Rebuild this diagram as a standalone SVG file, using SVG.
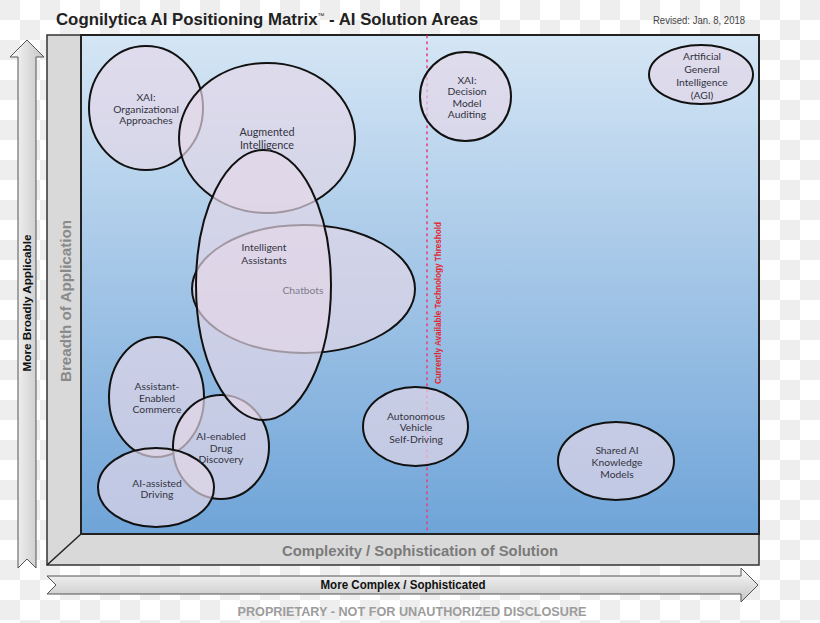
<svg xmlns="http://www.w3.org/2000/svg" width="820" height="623" viewBox="0 0 820 623">
<defs>
<pattern id="chk" width="40" height="40" patternUnits="userSpaceOnUse">
<rect width="40" height="40" fill="#ffffff"/>
<rect x="0" y="0" width="20" height="20" fill="#eeeeee"/>
<rect x="20" y="20" width="20" height="20" fill="#eeeeee"/>
</pattern>
<linearGradient id="plot" x1="0" y1="0" x2="0" y2="1">
<stop offset="0" stop-color="#d5e6f5"/>
<stop offset="1" stop-color="#6fa4d8"/>
</linearGradient>
<linearGradient id="arrV" x1="0" y1="0" x2="1" y2="0">
<stop offset="0" stop-color="#fbfbfb"/>
<stop offset="1" stop-color="#c4c4c4"/>
</linearGradient>
<linearGradient id="arrH" x1="0" y1="0" x2="0" y2="1">
<stop offset="0" stop-color="#fbfbfb"/>
<stop offset="1" stop-color="#c4c4c4"/>
</linearGradient>
<style>
.ell{fill:#e4d7e8;fill-opacity:0.68;stroke:#111;stroke-width:2}
.lbl{font-family:Lato,"Open Sans","Liberation Sans",sans-serif;font-size:10.3px;fill:#33333f;text-anchor:middle}
.ax{font-family:"Liberation Sans",Arial,sans-serif;font-weight:bold;text-anchor:middle}
</style>
</defs>
<rect width="820" height="623" fill="url(#chk)"/>

<g id="title">
<text x="56" y="25" font-family="'Liberation Sans',Arial,sans-serif" font-weight="bold" font-size="17" fill="#222" textLength="422" lengthAdjust="spacingAndGlyphs">Cognilytica AI Positioning Matrix<tspan font-size="7" font-weight="normal" dy="-7">™</tspan><tspan dy="7"> - AI Solution Areas</tspan></text>
<text x="745" y="24" font-family="'Liberation Sans',Arial,sans-serif" font-size="10" fill="#444" text-anchor="end" textLength="92" lengthAdjust="spacingAndGlyphs">Revised: Jan. 8, 2018</text>
</g>

<g id="left-arrow">
<polygon points="27,40 44,57 36,57 36,568 27,559 18,568 18,57 10,57" fill="url(#arrV)" stroke="#555" stroke-width="1"/>
<text class="ax" transform="translate(31,303) rotate(-90)" font-size="11" fill="#111" textLength="137" lengthAdjust="spacingAndGlyphs">More Broadly Applicable</text>
</g>

<g id="bottom-arrow">
<polygon points="47,576 741,576 741,568 758,585 741,602 741,594 47,594 56,585" fill="url(#arrH)" stroke="#555" stroke-width="1"/>
<text class="ax" x="403" y="589" font-size="12" fill="#111" textLength="165" lengthAdjust="spacingAndGlyphs">More Complex / Sophisticated</text>
</g>

<g id="frame">
<polygon points="47,35 81,35 81,534 47,565" fill="#d9d9d9"/>
<polygon points="47,565 81,534 759,534 759,565" fill="#d9d9d9"/>
<rect x="47" y="35" width="712" height="530" fill="none" stroke="#333" stroke-width="1.5"/>
<line x1="47" y1="565" x2="81" y2="534" stroke="#222" stroke-width="1.5"/>
<rect x="81" y="35" width="678" height="499" fill="url(#plot)" stroke="#222" stroke-width="2"/>
<text class="ax" transform="translate(71,301) rotate(-90)" font-size="15" fill="#8a8a8a" textLength="162" lengthAdjust="spacingAndGlyphs">Breadth of Application</text>
<text class="ax" x="420" y="556" font-size="14" fill="#7a7a7a" textLength="276" lengthAdjust="spacingAndGlyphs">Complexity / Sophistication of Solution</text>
</g>

<g id="threshold">
<line x1="427" y1="36" x2="427" y2="533" stroke="#e6407c" stroke-width="1.6" stroke-dasharray="1.6 4.4" stroke-linecap="round"/>
<text class="ax" transform="translate(441,303) rotate(-90)" font-size="9" fill="#e2262f" textLength="162" lengthAdjust="spacingAndGlyphs">Currently Available Technology Threshold</text>
</g>

<g id="xai-org"><ellipse class="ell" cx="146" cy="108" rx="57" ry="62"/></g>
<g id="augmented"><ellipse class="ell" cx="267" cy="138" rx="88" ry="75"/></g>
<g id="chatbots"><ellipse class="ell" cx="303.5" cy="289" rx="111.5" ry="64"/></g>
<g id="commerce"><ellipse class="ell" cx="156.5" cy="397" rx="47.5" ry="60"/></g>
<g id="drug"><ellipse class="ell" cx="221" cy="447" rx="48" ry="52"/></g>
<g id="driving"><ellipse class="ell" cx="156" cy="487.5" rx="58" ry="39.5"/></g>
<g id="assistants"><ellipse class="ell" cx="263.5" cy="285" rx="67.5" ry="135"/></g>
<g id="xai-decision"><ellipse class="ell" cx="465.5" cy="96.5" rx="45.5" ry="44.5"/></g>
<g id="agi"><ellipse class="ell" cx="701" cy="74.5" rx="52" ry="29.5"/></g>
<g id="autonomous"><ellipse class="ell" cx="415.5" cy="426.5" rx="52.5" ry="39.5"/></g>
<g id="shared"><ellipse class="ell" cx="616" cy="461" rx="58" ry="39"/></g>

<g id="labels">
<text class="lbl" x="146" y="101">XAI:</text>
<text class="lbl" x="146" y="112.5">Organizational</text>
<text class="lbl" x="146" y="124">Approaches</text>
<text class="lbl" x="267" y="136" style="font-size:10.8px">Augmented</text>
<text class="lbl" x="267" y="149" style="font-size:10.8px">Intelligence</text>
<text class="lbl" x="264" y="251">Intelligent</text>
<text class="lbl" x="264" y="264">Assistants</text>
<text class="lbl" x="303" y="294" style="fill:#7d7d8a">Chatbots</text>
<text class="lbl" x="157" y="390">Assistant-</text>
<text class="lbl" x="157" y="401.5">Enabled</text>
<text class="lbl" x="157" y="413">Commerce</text>
<text class="lbl" x="221" y="440">AI-enabled</text>
<text class="lbl" x="221" y="451.5">Drug</text>
<text class="lbl" x="221" y="463">Discovery</text>
<text class="lbl" x="157" y="486.5">AI-assisted</text>
<text class="lbl" x="157" y="498">Driving</text>
<text class="lbl" x="467" y="83.5">XAI:</text>
<text class="lbl" x="467" y="95">Decision</text>
<text class="lbl" x="467" y="106.5">Model</text>
<text class="lbl" x="467" y="118">Auditing</text>
<text class="lbl" x="702" y="59.5">Artificial</text>
<text class="lbl" x="702" y="72.5">General</text>
<text class="lbl" x="702" y="85.5">Intelligence</text>
<text class="lbl" x="702" y="98.5">(AGI)</text>
<text class="lbl" x="416" y="419.5">Autonomous</text>
<text class="lbl" x="416" y="431">Vehicle</text>
<text class="lbl" x="416" y="442.5">Self-Driving</text>
<text class="lbl" x="617" y="453.5">Shared AI</text>
<text class="lbl" x="617" y="465.5">Knowledge</text>
<text class="lbl" x="617" y="477.5">Models</text>
</g>

<g id="footer">
<text class="ax" x="412" y="616" font-size="12" fill="#9c9c9c" textLength="349" lengthAdjust="spacingAndGlyphs">PROPRIETARY - NOT FOR UNAUTHORIZED DISCLOSURE</text>
</g>
</svg>
